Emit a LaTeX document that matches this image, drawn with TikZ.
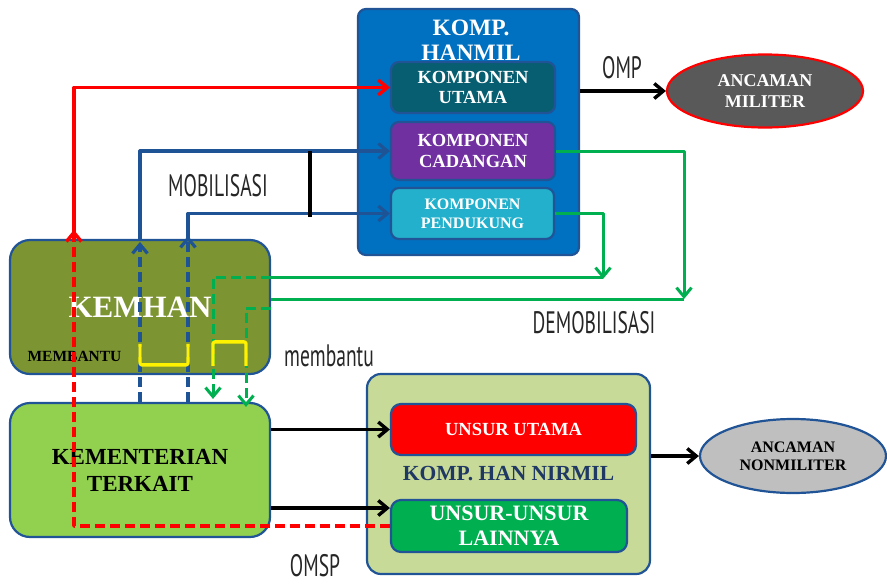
\documentclass[tikz,border=0pt]{standalone}
\usepackage{fontspec}
\setmainfont{Liberation Serif}
\newfontfamily\condsans[FakeStretch=0.63]{PT Sans}
\usetikzlibrary{arrows.meta,calc,shapes.geometric}
\definecolor{hanblue}{RGB}{0,112,192}
\definecolor{edgeblue}{RGB}{32,84,150}
\definecolor{utamateal}{RGB}{7,94,113}
\definecolor{cadpurple}{RGB}{112,48,160}
\definecolor{pendcyan}{RGB}{35,176,204}
\definecolor{militergray}{RGB}{89,89,89}
\definecolor{kemolive}{RGB}{124,148,49}
\definecolor{terkaitgreen}{RGB}{146,208,80}
\definecolor{nirfill}{RGB}{200,218,152}
\definecolor{lainnyagreen}{RGB}{0,176,80}
\definecolor{nongray}{RGB}{191,191,191}
\definecolor{nirnavy}{RGB}{31,56,100}
\definecolor{linkblue}{RGB}{30,84,150}
\definecolor{linkgreen}{RGB}{0,176,80}
\tikzset{
  box/.style={draw=edgeblue,line width=2.2pt,rounded corners=8pt,align=center,inner sep=0pt},
  oval/.style={ellipse,line width=2.2pt,align=center,inner sep=0pt},
  lbl/.style={font=\condsans\fontsize{31}{31}\selectfont,text=black!85,inner sep=0pt},
  redline/.style={red,line width=3.4pt},
  blueline/.style={linkblue,line width=3.2pt},
  greenline/.style={linkgreen,line width=3pt},
  yellowline/.style={yellow,line width=3.4pt,rounded corners=2pt},
  blackline/.style={black,line width=3.4pt},
  dashes/.style={dash pattern=on 10pt off 5pt}
}
\begin{document}
\begin{tikzpicture}[x=1pt,y=-1pt,line join=round,>={Straight Barb[length=9pt,width=15pt]}]
\useasboundingbox (0,0) rectangle (887,584);
\node[box,fill=hanblue,minimum width=221pt,minimum height=246pt] (hanmil) at (468.5,132) {};
\node[text=white,align=center,font=\fontsize{23.5}{25}\selectfont\bfseries] (hanmiltitle) at (471,40) {KOMP.\\HANMIL};
\node[box,fill=utamateal,minimum width=164pt,minimum height=51pt,text=white,font=\fontsize{18.5}{20}\selectfont\bfseries] (utama) at (473,87.5) {KOMPONEN\\UTAMA};
\node[box,fill=cadpurple,minimum width=164pt,minimum height=58pt,text=white,font=\fontsize{18.5}{21}\selectfont\bfseries] (cadangan) at (473,151) {KOMPONEN\\CADANGAN};
\node[box,fill=pendcyan,minimum width=163pt,minimum height=51pt,text=white,font=\fontsize{16}{19}\selectfont\bfseries] (pendukung) at (472.5,213.5) {KOMPONEN\\PENDUKUNG};
\node[oval,draw=red,fill=militergray,minimum width=196pt,minimum height=73pt,text=white,font=\fontsize{18}{21}\selectfont\bfseries] (militer) at (765,91) {ANCAMAN\\MILITER};
\node[box,fill=kemolive,rounded corners=20pt,minimum width=260pt,minimum height=134pt,text=white,font=\fontsize{31}{31}\selectfont\bfseries] (kemhan) at (140,307) {KEMHAN};
\node[font=\fontsize{15.5}{16}\selectfont\bfseries,inner sep=0pt] (membantuA) at (74.5,356) {MEMBANTU};
\node[box,fill=terkaitgreen,rounded corners=20pt,minimum width=260pt,minimum height=134pt,font=\fontsize{23}{27}\selectfont\bfseries] (terkait) at (140,470) {KEMENTERIAN\\TERKAIT};
\node[box,fill=nirfill,rounded corners=14pt,minimum width=283pt,minimum height=200pt,text=nirnavy,font=\fontsize{21.5}{22}\selectfont\bfseries] (nirmil) at (508.5,474) {KOMP. HAN NIRMIL};
\node[box,fill=red,rounded corners=10pt,minimum width=245pt,minimum height=51pt,text=white,font=\fontsize{18.5}{20}\selectfont\bfseries] (unsurutama) at (513.5,429.5) {UNSUR UTAMA};
\node[box,fill=lainnyagreen,rounded corners=10pt,minimum width=236pt,minimum height=52pt,text=white,font=\fontsize{22}{25}\selectfont\bfseries] (lainnya) at (509,526) {UNSUR-UNSUR\\LAINNYA};
\node[oval,draw=edgeblue,fill=nongray,minimum width=186pt,minimum height=74pt,font=\fontsize{16}{18}\selectfont\bfseries] (nonmiliter) at (793,456) {ANCAMAN\\NONMILITER};
\node[lbl] (mobilisasi) at (218,186) {MOBILISASI};
\node[lbl] (omp) at (622,68) {OMP};
\node[lbl] (demobilisasi) at (594,323) {DEMOBILISASI};
\node[lbl] (membantuB) at (329,356) {membantu};
\node[lbl] (omsp) at (315,566) {OMSP};
\coordinate (redx) at ([xshift=65pt]kemhan.north west);
\coordinate (mobx) at ([xshift=48pt]kemhan.north);
\coordinate (barx) at (310,0);
\coordinate (helpA) at ([xshift=73pt]kemhan.north);
\coordinate (helpB) at ([xshift=106pt]kemhan.north);
\coordinate (demA) at (603,277);
\coordinate (demB) at (684,299);
\coordinate (lain) at ([yshift=18pt]lainnya.west);
\draw[redline,dashes,->] (lainnya.west) -- (lainnya.west -| redx) -- ($(redx)+(0,-9)$);
\draw[redline,->] (redx) |- (utama.west);
\draw[blueline,dashes,->] (terkait.north) -- ($(kemhan.north)+(0,3)$);
\draw[blueline,->] (kemhan.north) |- (cadangan.west);
\draw[blueline,dashes,->] (mobx |- terkait.north) -- ($(mobx)+(0,-3)$);
\draw[blueline,->] (mobx) |- (pendukung.west);
\draw[line width=4pt] (barx |- cadangan.west) -- ($(barx |- pendukung.west)+(0,3)$);
\draw[greenline,->] (pendukung.east) -| ($(demA)+(0,2)$);
\draw[greenline] (demA) -- (demA -| kemhan.east);
\draw[greenline,dashes,->] (demA -| kemhan.east) -| ($(helpA |- terkait.north)+(0,-3)$);
\draw[greenline,->] (cadangan.east) -| (demB);
\draw[greenline] (demB) -- (demB -| kemhan.east);
\draw[greenline,dashes,->] ($(demB -| kemhan.east)+(0,9)$) -| ($(helpB |- terkait.north)+(0,5)$);
\draw[yellowline] ($(kemhan.north)+(0,105)$) -- ++(0,21) -| ($(mobx)+(0,105)$);
\draw[yellowline] ($(helpA)+(0,127)$) -- ++(0,-24) -| ($(helpB)+(0,127)$);
\draw[blackline,->] (terkait.east |- unsurutama.west) -- (unsurutama.west);
\draw[blackline,->] (terkait.east |- lain) -- (lain);
\draw[blackline,->] (hanmil.east |- militer.west) -- (militer.west);
\draw[blackline,->] (nirmil.east |- nonmiliter.west) -- (nonmiliter.west);
\end{tikzpicture}
\end{document}
